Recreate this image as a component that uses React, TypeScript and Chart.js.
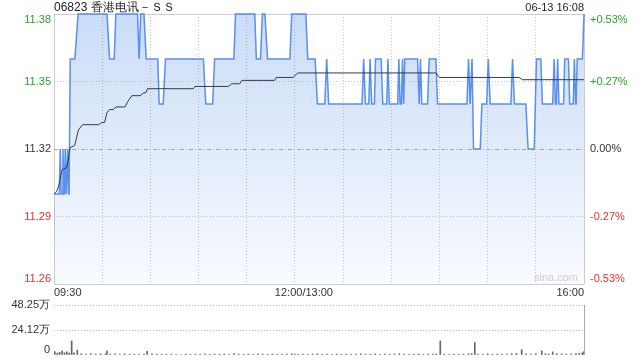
import React, { useEffect, useRef } from "react";
import { Chart, registerables } from "chart.js";

Chart.register(...registerables);

const titleText = "06823 香港电讯－ＳＳ";
const timestampText = "06-13 16:08";
const watermarkText = "sina.com";
const prevClose = 11.32;

const priceTicks = [11.26, 11.29, 11.32, 11.35, 11.38];
const priceTickLabels = ["11.26", "11.29", "11.32", "11.35", "11.38"];
const pctTickLabels = ["-0.53%", "-0.27%", "0.00%", "+0.27%", "+0.53%"];

const timeGridMinutes = [0, 30, 60, 90, 120, 150, 180, 210, 240, 270, 300, 330];
const timeLabelMinutes = [0, 150, 330];
const timeLabels = ["09:30", "12:00/13:00", "16:00"];

// price line vertices (minutes after 09:30, price)
const priceMinutes = [
  0, 3.3, 3.9, 4.5, 5.0, 5.6, 6.2, 6.5, 7.0, 7.6, 7.9, 8.5, 9.0, 9.4, 10.1, 13, 15, 33, 34.6, 37.5,
  38.5, 52, 53, 54, 56, 57.4, 64.6, 65.5, 68, 69.4, 93, 94.5, 98.8, 100, 112, 113, 125, 126, 128.6, 129.7,
  131.3, 133, 146.9, 148, 156.8, 158, 162.6, 164, 168.6, 169.8, 171, 191.8, 192.8, 193.9, 196, 196.8, 197.8, 199.5, 200.2, 203.7,
  204.7, 207.2, 207.9, 208.8, 214, 214.7, 215.5, 216.3, 217, 217.7, 218.4, 226.4, 227.4, 228.2, 229, 232.6, 233.6, 237.8, 238.8, 257.1,
  258.1, 259.1, 259.5, 260.3, 261.2, 265.4, 266.4, 269.4, 270.4, 271.6, 284.5, 285.5, 286.7, 293.8, 295.2, 299, 300.4, 303.1, 304.1, 310.5,
  311.4, 312.2, 312.8, 313.6, 314.4, 317.3, 318, 320.3, 321.1, 323.3, 324, 324.8, 325.1, 325.8, 329, 330,
];
const priceValues = [
  11.30, 11.30, 11.32, 11.30, 11.30, 11.32, 11.30, 11.30, 11.32, 11.30, 11.30, 11.32, 11.30, 11.30, 11.36, 11.36, 11.38, 11.38, 11.36, 11.36,
  11.38, 11.38, 11.36, 11.38, 11.38, 11.36, 11.36, 11.34, 11.34, 11.36, 11.36, 11.34, 11.34, 11.36, 11.36, 11.38, 11.38, 11.36, 11.36, 11.38,
  11.38, 11.36, 11.36, 11.38, 11.38, 11.36, 11.36, 11.34, 11.34, 11.36, 11.34, 11.34, 11.36, 11.34, 11.34, 11.36, 11.34, 11.34, 11.36, 11.36,
  11.34, 11.34, 11.36, 11.34, 11.34, 11.36, 11.34, 11.34, 11.36, 11.34, 11.36, 11.36, 11.34, 11.36, 11.34, 11.34, 11.36, 11.36, 11.34, 11.34,
  11.36, 11.34, 11.34, 11.36, 11.32, 11.32, 11.34, 11.34, 11.36, 11.34, 11.34, 11.36, 11.34, 11.34, 11.32, 11.32, 11.36, 11.36, 11.34, 11.34,
  11.36, 11.34, 11.34, 11.36, 11.34, 11.34, 11.36, 11.36, 11.34, 11.34, 11.36, 11.34, 11.34, 11.36, 11.36, 11.38,
];

// average price line vertices
const avgMinutes = [
  0, 1.5, 2.9, 5, 8, 10.1, 12.8, 15.3, 17.8, 27.8, 29.8, 31.5, 32.9, 34.5, 37, 38.5, 44.3, 46, 48.5, 53.6,
  56, 57.2, 58.2, 86.8, 87.8, 108.6, 110.6, 115.6, 117, 137.4, 138.4, 148.7, 151.8, 237.8, 239.9, 289.6, 291.7, 330,
];
const avgValues = [
  11.300, 11.301, 11.3035, 11.3108, 11.3118, 11.3207, 11.3215, 11.3286, 11.3308, 11.3308, 11.3318, 11.3318, 11.336, 11.3375, 11.3375, 11.3387, 11.3387, 11.3412, 11.3437, 11.3437,
  11.345, 11.345, 11.3468, 11.3468, 11.3478, 11.3478, 11.349, 11.349, 11.3505, 11.3505, 11.3518, 11.3518, 11.3538, 11.3538, 11.3518, 11.3518, 11.3508, 11.3508,
];

// volume bars (minute, shares)
const volMinutes = [
  0.5, 2, 3.5, 5, 6.5, 8, 9.5, 11, 12.5, 14.5,
  17, 20, 23, 26, 29, 32, 33, 35, 38, 41,
  44, 47, 50, 53, 56, 58, 61, 64, 67, 70,
  73, 76, 79, 82, 85, 88, 91, 94, 97, 100,
  103, 106, 109, 112, 115, 118, 121, 124, 127, 130,
  133, 136, 139, 142, 145, 148, 150, 152, 155, 158,
  161, 164, 167, 170, 173, 176, 179, 182, 185, 188,
  191, 194, 197, 200, 203, 206, 209, 212, 215, 218,
  221, 224, 227, 230, 233, 236, 238, 240.5, 243, 246,
  249, 252, 255, 258, 260, 262, 264, 267, 270, 273,
  276, 279, 282, 285, 288, 291.2, 294, 297, 300, 303.7,
  306, 308, 310.5, 313, 316, 319, 322, 325, 327, 329, 330,
];
const volValues = [
  32000, 18000, 26000, 41000, 22000, 30000, 19000, 136000, 21000, 47000,
  12000, 9000, 14000, 8000, 11000, 10000, 38000, 9000, 12000, 8000,
  10000, 7000, 9000, 6000, 8000, 36000, 11000, 7000, 9000, 6000,
  8000, 7000, 5000, 9000, 6000, 8000, 7000, 12000, 6000, 9000,
  7000, 10000, 6000, 13000, 8000, 7000, 9000, 6000, 11000, 8000,
  7000, 9000, 6000, 8000, 10000, 12000, 9000, 7000, 8000, 6000,
  9000, 11000, 7000, 8000, 6000, 9000, 7000, 8000, 6000, 10000,
  12000, 9000, 8000, 11000, 7000, 9000, 8000, 10000, 12000, 9000,
  7000, 8000, 11000, 6000, 9000, 8000, 10000, 136000, 9000, 7000,
  8000, 6000, 9000, 11000, 14000, 120000, 10000, 8000, 12000, 7000,
  9000, 8000, 10000, 13000, 15000, 52000, 11000, 9000, 14000, 40000,
  12000, 10000, 30000, 13000, 11000, 9000, 12000, 14000, 16000, 22000, 34000,
];
const volTicks = [0, 241250, 482500];
const volTickLabels = ["0", "24.12万", "48.25万"];

const FONT = '"Liberation Sans", Arial, Helvetica, sans-serif';
const GREEN = "#2aa22a";
const RED = "#e63232";
const DARK = "#333333";

function colorFor(v: number) {
  if (v > prevClose + 1e-9) return GREEN;
  if (v < prevClose - 1e-9) return RED;
  return DARK;
}

const mainTextPlugin = {
  id: "mainText",
  afterDraw(chart: any) {
    const { ctx, chartArea: a, scales } = chart;
    const ys = scales.y;
    const xs = scales.x;
    ctx.save();
    ctx.font = `11px ${FONT}`;
    priceTicks.forEach((v, i) => {
      const py = ys.getPixelForValue(v);
      ctx.textBaseline = i === priceTicks.length - 1 ? "top" : i === 0 ? "bottom" : "middle";
      ctx.fillStyle = colorFor(v);
      ctx.textAlign = "right";
      ctx.fillText(priceTickLabels[i], a.left - 3, py);
      ctx.textAlign = "left";
      ctx.fillText(pctTickLabels[i], a.right + 6, py);
    });
    ctx.fillStyle = DARK;
    ctx.textBaseline = "middle";
    timeLabelMinutes.forEach((m, i) => {
      const px = xs.getPixelForValue(m);
      ctx.textAlign = i === 0 ? "left" : i === timeLabelMinutes.length - 1 ? "right" : "center";
      ctx.fillText(timeLabels[i], i === 0 || i === timeLabelMinutes.length - 1 ? px : px + 9, a.bottom + 9);
    });
    ctx.font = `12px ${FONT}`;
    ctx.textAlign = "left";
    ctx.fillStyle = "#222";
    ctx.fillText(titleText, a.left, 7.5);
    ctx.font = `11px ${FONT}`;
    ctx.textAlign = "right";
    ctx.fillText(timestampText, a.right, 7.5);
    ctx.fillStyle = "#cfcfcf";
    ctx.textBaseline = "bottom";
    ctx.fillText(watermarkText, a.right - 6, a.bottom - 1);
    ctx.restore();
  },
};

const volTextPlugin = {
  id: "volText",
  afterDraw(chart: any) {
    const { ctx, chartArea: a, scales } = chart;
    const ys = scales.y;
    ctx.save();
    ctx.font = `11px ${FONT}`;
    ctx.fillStyle = DARK;
    ctx.textAlign = "right";
    volTicks.forEach((v, i) => {
      const py = ys.getPixelForValue(v);
      ctx.textBaseline = i === 0 ? "bottom" : "middle";
      ctx.fillText(volTickLabels[i], a.left - 4, py);
    });
    ctx.restore();
  },
};

export default function App() {
  const mainRef = useRef<HTMLCanvasElement | null>(null);
  const volRef = useRef<HTMLCanvasElement | null>(null);

  useEffect(() => {
    const priceData = priceMinutes.map((m, i) => ({ x: m, y: priceValues[i] }));
    const avgData = avgMinutes.map((m, i) => ({ x: m, y: avgValues[i] }));
    const volData = volMinutes.map((m, i) => ({ x: m, y: volValues[i] }));

    const main = new Chart(mainRef.current as HTMLCanvasElement, {
      type: "line",
      data: {
        datasets: [
          {
            data: avgData,
            borderColor: "#3a3a3a",
            borderWidth: 1,
            pointRadius: 0,
            tension: 0,
            fill: false,
          },
          {
            data: priceData,
            borderColor: "#5a8ff0",
            borderWidth: 1.5,
            pointRadius: 0,
            tension: 0,
            clip: 4,
            fill: "start",
            backgroundColor: (c: any) => {
              const area = c.chart.chartArea;
              if (!area) return "rgba(80,140,230,0.2)";
              const g = c.chart.ctx.createLinearGradient(0, area.top, 0, area.bottom);
              g.addColorStop(0, "rgba(80,140,230,0.30)");
              g.addColorStop(1, "rgba(80,140,230,0.04)");
              return g;
            },
          },
        ],
      },
      options: {
        responsive: false,
        animation: false,
        events: [],
        layout: { padding: { left: 54, right: 56, top: 14, bottom: 16 } },
        plugins: { legend: { display: false }, tooltip: { enabled: false }, title: { display: false } },
        scales: {
          x: {
            type: "linear",
            min: 0,
            max: 330,
            afterBuildTicks: (s: any) => {
              s.ticks = timeGridMinutes.map((v) => ({ value: v }));
            },
            afterFit: (s: any) => {
              s.height = 0;
            },
            ticks: { display: false },
            border: {
              display: false,
              dash: (c: any) => (c.index === 0 || c.index === timeGridMinutes.length - 1 ? [] : [1, 2]),
            },
            grid: {
              drawTicks: false,
              offset: false,
              color: (c: any) => (c.index === 0 || c.index === timeGridMinutes.length - 1 ? "#cccccc" : "#c4c4c4"),
              lineWidth: 1,
            },
          },
          y: {
            type: "linear",
            min: priceTicks[0],
            max: priceTicks[priceTicks.length - 1],
            afterBuildTicks: (s: any) => {
              s.ticks = priceTicks.map((v) => ({ value: v }));
            },
            afterFit: (s: any) => {
              s.width = 0;
            },
            ticks: { display: false },
            border: {
              display: false,
              dash: (c: any) => {
                const v = priceTicks[c.index];
                if (c.index === 0 || c.index === priceTicks.length - 1) return [];
                return v === prevClose ? [4, 2, 1, 2] : [1, 2];
              },
            },
            grid: {
              drawTicks: false,
              color: (c: any) => {
                const v = priceTicks[c.index];
                if (c.index === 0 || c.index === priceTicks.length - 1) return "#cccccc";
                return v === prevClose ? "#aaaaaa" : "#c4c4c4";
              },
              lineWidth: 1,
            },
          },
        },
      },
      plugins: [mainTextPlugin],
    } as any);

    const vol = new Chart(volRef.current as HTMLCanvasElement, {
      type: "bar",
      data: {
        datasets: [
          {
            data: volData,
            backgroundColor: "#666666",
            barThickness: 1,
          },
        ],
      },
      options: {
        responsive: false,
        animation: false,
        events: [],
        layout: { padding: { left: 54, right: 56, top: 15, bottom: 5 } },
        plugins: { legend: { display: false }, tooltip: { enabled: false } },
        scales: {
          x: {
            type: "linear",
            min: 0,
            max: 330,
            offset: false,
            afterBuildTicks: (s: any) => {
              s.ticks = [{ value: 330 }];
            },
            afterFit: (s: any) => {
              s.height = 0;
            },
            ticks: { display: false },
            border: { display: false },
            grid: { drawTicks: false, offset: false, color: "#aaaaaa", lineWidth: 1 },
          },
          y: {
            type: "linear",
            min: volTicks[0],
            max: volTicks[volTicks.length - 1],
            afterBuildTicks: (s: any) => {
              s.ticks = volTicks.map((v) => ({ value: v }));
            },
            afterFit: (s: any) => {
              s.width = 0;
            },
            ticks: { display: false },
            border: { display: false, dash: [1, 2] },
            grid: {
              drawTicks: false,
              offset: false,
              color: (c: any) => (c.index === 0 ? "rgba(0,0,0,0)" : "#bbbbbb"),
              lineWidth: 1,
            },
          },
        },
      },
      plugins: [volTextPlugin],
    } as any);

    return () => {
      main.destroy();
      vol.destroy();
    };
  }, []);

  return (
    <div style={{ position: "absolute", left: 0, top: 0, width: 640, height: 360, background: "#fff" }}>
      <canvas ref={mainRef} width={640} height={300} style={{ position: "absolute", left: 0, top: 0 }} />
      <canvas ref={volRef} width={640} height={70} style={{ position: "absolute", left: 0, top: 290 }} />
    </div>
  );
}
